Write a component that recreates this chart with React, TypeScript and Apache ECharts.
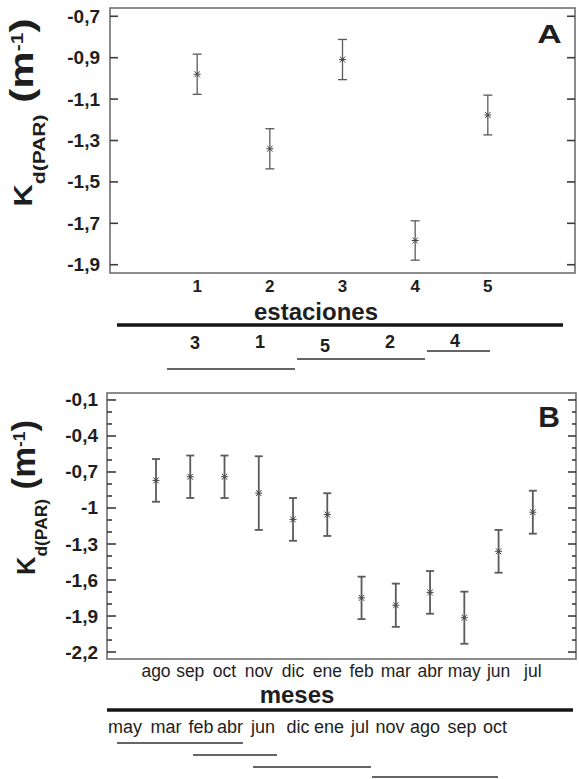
import React, { useEffect, useRef } from 'react';
import * as echarts from 'echarts';

// ---------- data ----------
const stationsA = [1, 2, 3, 4, 5];
const kdA = [-0.98, -1.34, -0.909, -1.783, -1.177];
const errA = [0.097, 0.097, 0.097, 0.095, 0.096];
const ticksA = [-1.9, -1.7, -1.5, -1.3, -1.1, -0.9, -0.7];

const months = ['ago', 'sep', 'oct', 'nov', 'dic', 'ene', 'feb', 'mar', 'abr', 'may', 'jun', 'jul'];
const kdB = [-0.77, -0.74, -0.74, -0.876, -1.095, -1.055, -1.749, -1.81, -1.703, -1.914, -1.361, -1.035];
const errB = [0.178, 0.177, 0.177, 0.307, 0.178, 0.178, 0.177, 0.18, 0.178, 0.217, 0.178, 0.179];
const ticksB = [-2.2, -1.9, -1.6, -1.3, -1, -0.7, -0.4, -0.1];
const minorTicksB = [-2.1, -2, -1.8, -1.7, -1.5, -1.4, -1.2, -1.1, -0.9, -0.8, -0.6, -0.5, -0.3, -0.2];

const groupOrderA = ['3', '1', '5', '2', '4'];
const groupsA = [[0, 1], [2, 3], [4, 4]];
const groupOrderB = ['may', 'mar', 'feb', 'abr', 'jun', 'dic', 'ene', 'jul', 'nov', 'ago', 'sep', 'oct'];
const groupsB = [[0, 3], [2, 4], [4, 7], [8, 11]];

// ---------- layout ----------
const FONT = '"Liberation Sans", Arial, Helvetica, sans-serif';
const TXT = '#1e1e1e';
const GRAY = '#5a5a5a';
const TICK = '#3c3c3c';
const labelXA = groupOrderA.map((_, i) => 195 + 65 * i);
const labelYA = [343, 342, 346, 342, 341];
const lineYA = [369, 359, 351];
const labelXB = [125, 166, 201, 230, 263, 298, 329, 360, 390, 425, 462, 495];
const lineSpanB = [[117, 243], [193, 277], [253, 371], [372, 498]];
const lineYB = [743, 755, 767, 777];

const fmt = (v: number) => String(Math.round(v * 10) / 10).replace('.', ',');

const errorItem = (capHalf: number, lw: number) => (params: any, api: any) => {
  const x = api.value(0), m = api.value(1), e = api.value(2);
  const t = api.coord([x, m + e]);
  const b = api.coord([x, m - e]);
  const c = api.coord([x, m]);
  const st = { stroke: GRAY, lineWidth: lw };
  const ss = { stroke: '#444', lineWidth: 1 };
  const r = 3.5;
  return {
    type: 'group',
    children: [
      { type: 'line', shape: { x1: t[0], y1: t[1], x2: b[0], y2: b[1] }, style: st },
      { type: 'line', shape: { x1: t[0] - capHalf, y1: t[1], x2: t[0] + capHalf, y2: t[1] }, style: st },
      { type: 'line', shape: { x1: b[0] - capHalf, y1: b[1], x2: b[0] + capHalf, y2: b[1] }, style: st },
      { type: 'line', shape: { x1: c[0] - r, y1: c[1], x2: c[0] + r, y2: c[1] }, style: ss },
      { type: 'line', shape: { x1: c[0] - r * 0.75, y1: c[1] - r * 0.85, x2: c[0] + r * 0.75, y2: c[1] + r * 0.85 }, style: ss },
      { type: 'line', shape: { x1: c[0] - r * 0.75, y1: c[1] + r * 0.85, x2: c[0] + r * 0.75, y2: c[1] - r * 0.85 }, style: ss },
    ],
  };
};

// inward tick marks on both sides of the frame, placed through the y scale
const tickItem = (leftLen: number, rightLen: number) => (params: any, api: any) => {
  const cs = params.coordSys;
  const y = api.coord([api.value(0), api.value(1)])[1];
  const st = { stroke: TICK, lineWidth: 1.6 };
  return {
    type: 'group',
    children: [
      { type: 'line', shape: { x1: cs.x, y1: y, x2: cs.x + leftLen, y2: y }, style: st },
      { type: 'line', shape: { x1: cs.x + cs.width - rightLen, y1: y, x2: cs.x + cs.width, y2: y }, style: st },
    ],
  };
};

const yTitle = (x0: number, yc: number, sx: number) => ({
  type: 'text',
  x: x0,
  y: yc,
  rotation: Math.PI / 2,
  scaleX: sx,
  style: {
    text: '{k|K}{s|d(PAR)}{b| (m}{p|-1}{b|)}',
    align: 'center',
    verticalAlign: 'top',
    fill: TXT,
    rich: {
      k: { fontSize: 25, fontWeight: 'bold', fontFamily: FONT, lineHeight: 25, verticalAlign: 'top', padding: [7.5, 0, 0, 0], fill: TXT },
      s: { fontSize: 17, fontWeight: 'bold', fontFamily: FONT, lineHeight: 17, verticalAlign: 'top', padding: [26.5, 0, 0, 0], fill: TXT },
      b: { fontSize: 34, fontWeight: 'bold', fontFamily: FONT, lineHeight: 34, verticalAlign: 'top', padding: [0, 0, 0, 0], fill: TXT },
      p: { fontSize: 17, fontWeight: 'bold', fontFamily: FONT, lineHeight: 17, verticalAlign: 'top', padding: [5, 0, 0, 0], fill: TXT },
    },
  },
});

function buildOption(): any {
  const graphic: any[] = [];
  graphic.push(yTitle(4, 112.5, 1.24));
  graphic.push(yTitle(6, 497.5, 1.02));
  graphic.push({ type: 'text', x: 549.5, y: 34, scaleX: 1.3, style: { text: 'A', font: `bold 26px ${FONT}`, fill: TXT, align: 'center', verticalAlign: 'middle' } });
  graphic.push({ type: 'text', x: 549, y: 416, style: { text: 'B', font: `bold 30px ${FONT}`, fill: TXT, align: 'center', verticalAlign: 'middle' } });
  graphic.push({ type: 'text', x: 316, y: 311, style: { text: 'estaciones', font: `bold 24px ${FONT}`, fill: TXT, align: 'center', verticalAlign: 'middle' } });
  graphic.push({ type: 'text', x: 297, y: 694, style: { text: 'meses', font: `bold 24px ${FONT}`, fill: TXT, align: 'center', verticalAlign: 'middle' } });
  graphic.push({ type: 'line', shape: { x1: 117, y1: 325, x2: 563, y2: 325 }, style: { stroke: '#151515', lineWidth: 3.5 } });
  graphic.push({ type: 'line', shape: { x1: 107, y1: 710, x2: 573, y2: 710 }, style: { stroke: '#151515', lineWidth: 3.5 } });
  groupOrderA.forEach((t, i) => {
    graphic.push({ type: 'text', x: labelXA[i], y: labelYA[i], style: { text: t, font: `bold 18px ${FONT}`, fill: TXT, align: 'center', verticalAlign: 'middle' } });
  });
  groupsA.forEach((g, i) => {
    graphic.push({ type: 'line', shape: { x1: labelXA[g[0]] - 28, y1: lineYA[i], x2: labelXA[g[1]] + 35, y2: lineYA[i] }, style: { stroke: '#333', lineWidth: 1.5 } });
  });
  groupOrderB.forEach((t, i) => {
    graphic.push({ type: 'text', x: labelXB[i], y: 727, style: { text: t, font: `18px ${FONT}`, fill: TXT, align: 'center', verticalAlign: 'middle' } });
  });
  groupsB.forEach((g, i) => {
    graphic.push({ type: 'line', shape: { x1: lineSpanB[i][0], y1: lineYB[i], x2: lineSpanB[i][1], y2: lineYB[i] }, style: { stroke: '#333', lineWidth: 1.5 } });
  });

  return {
    animation: false,
    backgroundColor: '#fff',
    grid: [
      { left: 110, top: 8, width: 465, height: 265, show: true, borderColor: '#666', borderWidth: 1.5, backgroundColor: 'transparent' },
      { left: 107, top: 393, width: 469, height: 266, show: true, borderColor: '#666', borderWidth: 1.5, backgroundColor: 'transparent' },
    ],
    xAxis: [
      {
        gridIndex: 0, type: 'value', min: -0.2, max: 6.2, position: 'bottom',
        axisLine: { show: false, onZero: false }, axisTick: { show: false }, splitLine: { show: false },
        axisLabel: { customValues: stationsA, fontSize: 17, fontWeight: 'bold', fontFamily: FONT, color: TXT, margin: 5 },
      },
      {
        gridIndex: 1, type: 'value', min: -1.43, max: 12.26, position: 'bottom',
        axisLine: { show: false, onZero: false }, axisTick: { show: false }, splitLine: { show: false },
        axisLabel: { customValues: months.map((_, i) => i), formatter: (v: number) => months[Math.round(v)], fontSize: 17.5, fontFamily: FONT, color: TXT, margin: 3 },
      },
    ],
    yAxis: [
      {
        gridIndex: 0, type: 'value', min: -1.94, max: -0.66, position: 'left',
        axisLine: { show: false, onZero: false }, axisTick: { show: false }, splitLine: { show: false },
        axisLabel: { customValues: ticksA, formatter: fmt, fontSize: 19, fontWeight: 'bold', fontFamily: FONT, color: TXT, margin: 10 },
      },
      {
        gridIndex: 1, type: 'value', min: -2.258, max: -0.042, position: 'left',
        axisLine: { show: false, onZero: false }, axisTick: { show: false }, splitLine: { show: false },
        axisLabel: { customValues: ticksB, formatter: fmt, fontSize: 19, fontWeight: 'bold', fontFamily: FONT, color: TXT, margin: 9 },
      },
    ],
    series: [
      {
        type: 'custom', xAxisIndex: 0, yAxisIndex: 0, clip: false, silent: true, z: 5,
        encode: { x: 0, y: 1 },
        data: ticksA.map((v) => [1, v]),
        renderItem: tickItem(8, 8),
      },
      {
        type: 'custom', xAxisIndex: 1, yAxisIndex: 1, clip: false, silent: true, z: 5,
        encode: { x: 0, y: 1 },
        data: ticksB.map((v) => [0, v]),
        renderItem: tickItem(9, 8),
      },
      {
        type: 'custom', xAxisIndex: 1, yAxisIndex: 1, clip: false, silent: true, z: 5,
        encode: { x: 0, y: 1 },
        data: minorTicksB.map((v) => [0, v]),
        renderItem: tickItem(5, 4),
      },
      {
        type: 'custom', xAxisIndex: 0, yAxisIndex: 0, clip: false,
        encode: { x: 0, y: 1 },
        data: stationsA.map((s, i) => [s, kdA[i], errA[i]]),
        renderItem: errorItem(4.5, 1.3),
      },
      {
        type: 'custom', xAxisIndex: 1, yAxisIndex: 1, clip: false,
        encode: { x: 0, y: 1 },
        data: months.map((_, i) => [i, kdB[i], errB[i]]),
        renderItem: errorItem(4, 1.8),
      },
    ],
    graphic,
  };
}

export default function App() {
  const ref = useRef<HTMLDivElement>(null);
  useEffect(() => {
    document.body.style.margin = '0';
    const chart = echarts.init(ref.current!, null, { renderer: 'svg' });
    chart.setOption(buildOption());
    return () => chart.dispose();
  }, []);
  return <div ref={ref} style={{ width: 579, height: 779 }} />;
}
